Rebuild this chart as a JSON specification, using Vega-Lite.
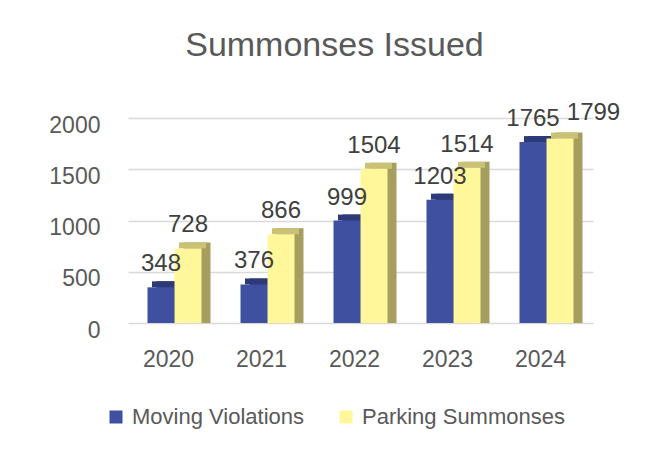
{
  "$schema": "https://vega.github.io/schema/vega-lite/v6.json",
  "width": 465,
  "height": 205,
  "autosize": {"type": "none"},
  "padding": {"left": 128, "top": 118, "right": 62, "bottom": 128},
  "background": "white",
  "config": {
    "view": {"stroke": null},
    "font": "Liberation Sans"
  },
  "title": {
    "text": "Summonses Issued",
    "fontSize": 34,
    "fontWeight": "normal",
    "font": "Liberation Sans",
    "color": "#595959",
    "anchor": "middle",
    "dx": -26,
    "baseline": "alphabetic",
    "offset": 11
  },
  "data": {
    "values": [
      {"year": "2020", "series": "Moving Violations", "value": 348},
      {"year": "2020", "series": "Parking Summonses", "value": 728},
      {"year": "2021", "series": "Moving Violations", "value": 376},
      {"year": "2021", "series": "Parking Summonses", "value": 866},
      {"year": "2022", "series": "Moving Violations", "value": 999},
      {"year": "2022", "series": "Parking Summonses", "value": 1504},
      {"year": "2023", "series": "Moving Violations", "value": 1203},
      {"year": "2023", "series": "Parking Summonses", "value": 1514},
      {"year": "2024", "series": "Moving Violations", "value": 1765},
      {"year": "2024", "series": "Parking Summonses", "value": 1799}
    ]
  },
  "encoding": {
    "x": {
      "field": "year",
      "type": "nominal",
      "scale": {"paddingInner": 0.42, "paddingOuter": 0.21},
      "axis": {
        "title": null,
        "domain": false,
        "ticks": false,
        "labelAngle": 0,
        "labelFontSize": 23,
        "labelColor": "#595959",
        "labelPadding": 25,
        "labelOffset": -6
      }
    },
    "y": {
      "field": "value",
      "type": "quantitative",
      "stack": null,
      "scale": {"domain": [0, 2000], "nice": false},
      "axis": {
        "title": null,
        "values": [0, 500, 1000, 1500, 2000],
        "format": "d",
        "domain": false,
        "ticks": false,
        "labelFontSize": 23,
        "labelColor": "#595959",
        "labelPadding": 28,
        "labelOffset": 7,
        "gridColor": "#d9d9d9",
        "gridWidth": 1.5
      }
    }
  },
  "layer": [
    {
      "transform": [{"filter": "datum.series === 'Moving Violations'"}],
      "mark": {"type": "bar", "width": 27, "xOffset": -4.5, "yOffset": -6, "y2Offset": -6, "fill": "#2d3a78"}
    },
    {
      "transform": [{"filter": "datum.series === 'Parking Summonses'"}],
      "mark": {"type": "bar", "width": 27, "xOffset": 22.5, "yOffset": -6, "y2Offset": -6, "fill": "#a59e5f"}
    },
    {
      "transform": [{"filter": "datum.series === 'Moving Violations'"}],
      "mark": {"type": "bar", "width": 27, "xOffset": -9, "yOffset": -6, "y2Offset": 0, "fill": "#2d3a78"},
      "encoding": {"y2": {"field": "value"}}
    },
    {
      "transform": [{"filter": "datum.series === 'Parking Summonses'"}],
      "mark": {"type": "bar", "width": 27, "xOffset": 18, "yOffset": -6, "y2Offset": 0, "fill": "#c8c176"},
      "encoding": {"y2": {"field": "value"}}
    },
    {
      "transform": [{"filter": "datum.series === 'Moving Violations'"}],
      "mark": {"type": "bar", "width": 27, "xOffset": -13.5},
      "encoding": {
        "color": {
          "field": "series",
          "type": "nominal",
          "scale": {"domain": ["Moving Violations", "Parking Summonses"], "range": ["#3f50a0", "#fff799"]},
          "legend": {
            "title": null,
            "orient": "none",
            "legendX": -23,
            "legendY": 288,
            "direction": "horizontal",
            "symbolType": "square",
            "symbolSize": 169,
            "symbolStrokeWidth": 0,
            "labelFontSize": 22,
            "labelLimit": 400,
            "labelColor": "#595959",
            "labelOffset": 5,
            "columnPadding": 30
          }
        }
      }
    },
    {
      "transform": [{"filter": "datum.series === 'Parking Summonses'"}],
      "mark": {"type": "bar", "width": 27, "xOffset": 13.5},
      "encoding": {
        "color": {"field": "series", "type": "nominal"}
      }
    },
    {
      "transform": [{"filter": "datum.series === 'Moving Violations'"}],
      "mark": {"type": "text", "baseline": "alphabetic", "dy": -16, "xOffset": -13.5, "fontSize": 24, "color": "#404040"},
      "encoding": {"text": {"field": "value", "type": "quantitative"}}
    },
    {
      "transform": [{"filter": "datum.series === 'Parking Summonses' && datum.year !== '2024'"}],
      "mark": {"type": "text", "baseline": "alphabetic", "dy": -16, "xOffset": 13.5, "fontSize": 24, "color": "#404040"},
      "encoding": {"text": {"field": "value", "type": "quantitative"}}
    },
    {
      "transform": [{"filter": "datum.series === 'Parking Summonses' && datum.year === '2024'"}],
      "mark": {"type": "text", "baseline": "alphabetic", "dy": -19, "xOffset": 47, "fontSize": 24, "color": "#404040"},
      "encoding": {"text": {"field": "value", "type": "quantitative"}}
    }
  ]
}
